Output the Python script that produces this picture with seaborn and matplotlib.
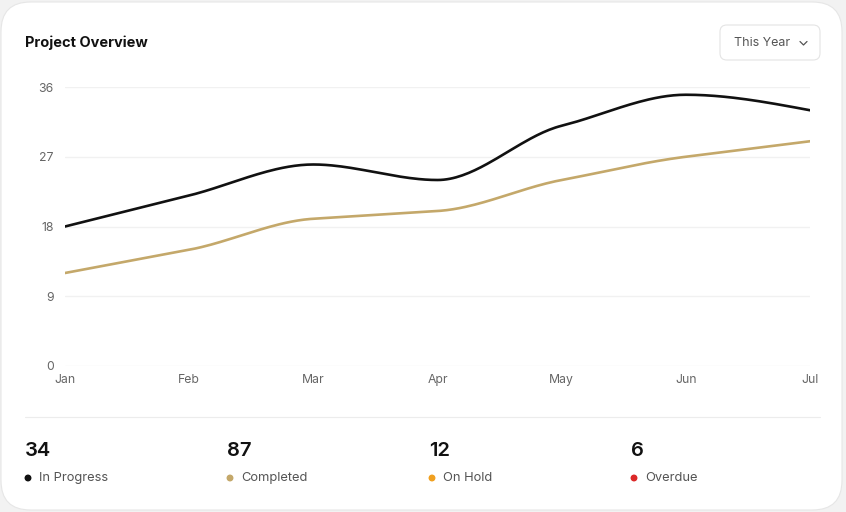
import numpy as np
import matplotlib
matplotlib.use("Agg")
import matplotlib.pyplot as plt
import seaborn as sns
import pandas as pd
from matplotlib.patches import FancyBboxPatch, Ellipse

months = ["Jan", "Feb", "Mar", "Apr", "May", "Jun", "Jul"]
in_progress = [18, 22, 26, 24, 31, 35, 33]
completed = [12, 15, 19, 20, 24, 27, 29]
y_ticks = [0, 9, 18, 27, 36]

stat_values = ["34", "87", "12", "6"]
stat_labels = ["In Progress", "Completed", "On Hold", "Overdue"]
stat_colors = ["#111111", "#c4a86a", "#f0a020", "#dc2828"]


def monotone_curve(y, n=40):
    # d3 curveMonotoneX style smoothing, only for drawing the line
    y = np.asarray(y, float)
    x = np.arange(len(y), dtype=float)
    d = np.diff(y)
    m = np.zeros_like(y)
    for i in range(1, len(y) - 1):
        if d[i - 1] * d[i] <= 0:
            m[i] = 0
        else:
            m[i] = np.sign(d[i]) * min(abs(d[i - 1]), abs(d[i]), 0.5 * abs(d[i - 1] + d[i]))
    m[0] = (3 * d[0] - m[1]) / 2
    m[-1] = (3 * d[-1] - m[-2]) / 2
    xs, ys = [], []
    for i in range(len(y) - 1):
        t = np.linspace(0, 1, n, endpoint=(i == len(y) - 2))
        h00 = 2 * t**3 - 3 * t**2 + 1
        h10 = t**3 - 2 * t**2 + t
        h01 = -2 * t**3 + 3 * t**2
        h11 = t**3 - t**2
        xs.append(x[i] + t)
        ys.append(h00 * y[i] + h10 * m[i] + h01 * y[i + 1] + h11 * m[i + 1])
    return np.concatenate(xs), np.concatenate(ys)


sns.set_style("white")
plt.rcParams["font.family"] = ["Inter", "DejaVu Sans"]

W, H = 846, 512
fig = plt.figure(figsize=(W / 100, H / 100), dpi=100)
fig.patch.set_facecolor("#f2f2f2")

card = FancyBboxPatch((1 / W, 2 / H), 841 / W, 508 / H,
                      boxstyle="round,pad=0,rounding_size=0.035",
                      transform=fig.transFigure, facecolor="white",
                      edgecolor="#e6e6e6", linewidth=0.8,
                      mutation_aspect=W / H, zorder=-10)
fig.patches.append(card)

ax = fig.add_axes([65 / W, 1 - 366 / H, (810 - 65) / W, (366 - 87) / H])
ax.set_facecolor("none")
ax.set_zorder(5)

rows = []
for name, vals in [("In Progress", in_progress), ("Completed", completed)]:
    xs, ys = monotone_curve(vals)
    rows.append(pd.DataFrame({"x": xs, "y": ys, "series": name}))
df = pd.concat(rows)

sns.lineplot(data=df, x="x", y="y", hue="series", sort=False,
             palette={"In Progress": "#111111", "Completed": "#c4a86a"},
             linewidth=1.9, legend=False, ax=ax)

ax.set_xlim(0, len(months) - 1)
ax.set_ylim(0, 36)
ax.set_yticks(y_ticks)
ax.set_xticks(range(len(months)))
ax.set_xticklabels(months)
ax.set_xlabel("")
ax.set_ylabel("")
for s in ax.spines.values():
    s.set_visible(False)
ax.grid(axis="y", color="#f1f1f1", linewidth=1)
ax.tick_params(axis="both", length=0, labelsize=8.8, colors="#666666")
ax.tick_params(axis="y", pad=8)
ax.tick_params(axis="x", pad=6)

fig.text(25 / W, 1 - 43 / H, "Project Overview", fontsize=10.5, fontweight="bold",
         color="#111111", va="center", ha="left")

drop = FancyBboxPatch((720 / W, 1 - 60 / H), 100 / W, 35 / H,
                      boxstyle="round,pad=0,rounding_size=0.008",
                      transform=fig.transFigure, facecolor="white",
                      edgecolor="#e4e4e4", linewidth=0.8,
                      mutation_aspect=W / H)
fig.patches.append(drop)
fig.text(734 / W, 1 - 43 / H, "This Year", fontsize=9, color="#555555",
         va="center", ha="left")
fig.lines.append(plt.Line2D([800 / W, 803.5 / W, 807 / W],
                            [1 - 41.5 / H, 1 - 45 / H, 1 - 41.5 / H],
                            transform=fig.transFigure, color="#555555", linewidth=0.9))

fig.lines.append(plt.Line2D([25 / W, 820 / W], [1 - 417 / H, 1 - 417 / H],
                            transform=fig.transFigure, color="#ececec", linewidth=0.8))

stat_x = [25, 227, 429, 631]
for x0, v, lab, c in zip(stat_x, stat_values, stat_labels, stat_colors):
    fig.text(x0 / W, 1 - 451 / H, v, fontsize=14.5, fontweight="semibold",
             color="#111111", va="center", ha="left")
    fig.patches.append(Ellipse(((x0 + 3) / W, 1 - 478 / H), 5.5 / W, 5.5 / H,
                               transform=fig.transFigure, color=c))
    fig.text((x0 + 14) / W, 1 - 478 / H, lab, fontsize=9.3, color="#555555",
             va="center", ha="left")

fig.savefig("out.png", dpi=100, facecolor=fig.get_facecolor())
